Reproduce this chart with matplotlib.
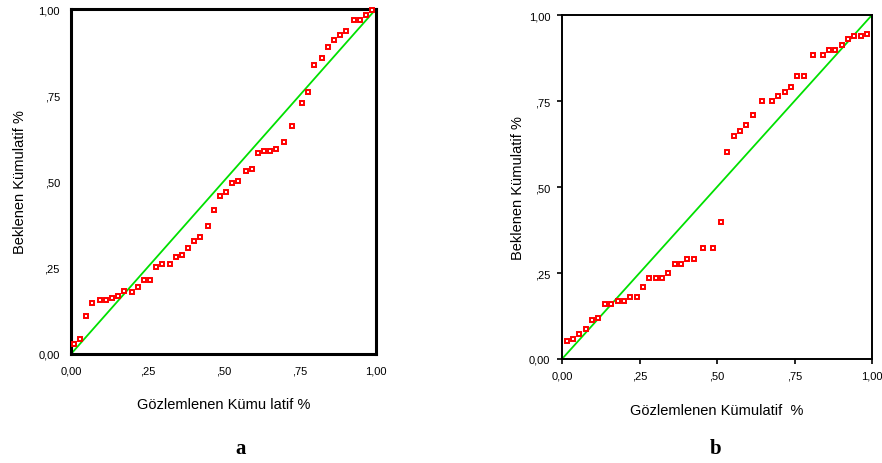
import matplotlib.pyplot as plt

plt.rcParams['font.family'] = ['Liberation Sans Narrow', 'Liberation Sans', 'DejaVu Sans']

# Panel a: observed vs expected cumulative proportions
obs_a = [0.010, 0.030, 0.049, 0.069, 0.095, 0.115, 0.134, 0.155, 0.175, 0.200,
         0.221, 0.240, 0.259, 0.279, 0.298, 0.325, 0.344, 0.364, 0.384, 0.403,
         0.423, 0.449, 0.469, 0.489, 0.508, 0.528, 0.548, 0.574, 0.593, 0.613,
         0.633, 0.652, 0.672, 0.698, 0.725, 0.757, 0.777, 0.797, 0.823, 0.843,
         0.862, 0.882, 0.902, 0.928, 0.948, 0.967, 0.987]
exp_a = [0.030, 0.043, 0.109, 0.148, 0.156, 0.156, 0.161, 0.169, 0.182, 0.181,
         0.195, 0.214, 0.214, 0.253, 0.260, 0.260, 0.280, 0.287, 0.306, 0.327,
         0.339, 0.372, 0.417, 0.457, 0.470, 0.496, 0.501, 0.530, 0.535, 0.582,
         0.588, 0.588, 0.595, 0.614, 0.661, 0.727, 0.759, 0.838, 0.858, 0.890,
         0.910, 0.924, 0.937, 0.969, 0.969, 0.983, 0.996]

# Panel b
obs_b = [0.015, 0.036, 0.056, 0.077, 0.098, 0.117, 0.139, 0.159, 0.180, 0.200,
         0.220, 0.241, 0.261, 0.282, 0.302, 0.323, 0.343, 0.364, 0.384, 0.404,
         0.425, 0.456, 0.487, 0.512, 0.533, 0.554, 0.574, 0.595, 0.616, 0.646,
         0.677, 0.698, 0.718, 0.739, 0.759, 0.780, 0.811, 0.841, 0.861, 0.882,
         0.902, 0.923, 0.943, 0.964, 0.984]
exp_b = [0.051, 0.057, 0.073, 0.087, 0.113, 0.118, 0.159, 0.159, 0.169, 0.169,
         0.179, 0.179, 0.210, 0.235, 0.235, 0.235, 0.251, 0.276, 0.276, 0.292,
         0.292, 0.323, 0.323, 0.399, 0.603, 0.648, 0.664, 0.679, 0.709, 0.750,
         0.750, 0.765, 0.776, 0.792, 0.822, 0.822, 0.883, 0.883, 0.898, 0.898,
         0.914, 0.929, 0.939, 0.939, 0.945]

ticks = [0, 0.25, 0.5, 0.75, 1.0]
tick_labels = ['0,00', ',25', ',50', ',75', '1,00']

fig = plt.figure(figsize=(8.82, 4.64), dpi=100)
ax_a = fig.add_axes([71/882, 109/464, 305/882, 345/464])
ax_b = fig.add_axes([562/882, 104/464, 310/882, 344/464])

for ax, xs, ys, xlab in [(ax_a, obs_a, exp_a, 'Gözlemlenen Kümu latif %'),
                         (ax_b, obs_b, exp_b, 'Gözlemlenen Kümulatif  %')]:
    ax.plot([0, 1], [0, 1], color='#00e000', lw=1.3, zorder=2)
    ax.plot(xs, ys, 's', ms=3.2, mfc='white', mec='#ff0000', mew=1.4,
            zorder=3, clip_on=False)
    ax.set_xlim(0, 1)
    ax.set_ylim(0, 1)
    ax.set_xticks(ticks)
    ax.set_xticklabels(tick_labels)
    ax.set_yticks(ticks)
    ax.set_yticklabels(tick_labels)

# panel a: heavy frame, no tick marks
for s in ax_a.spines.values():
    s.set_linewidth(2.2)
ax_a.tick_params(length=0, labelsize=8, pad=8)
ax_a.set_xlabel('Gözlemlenen Kümu latif %', fontsize=10.5, labelpad=16)
ax_a.set_ylabel('Beklenen Kümulatif %', fontsize=10.5, labelpad=8)

# panel b: lighter frame, outward ticks
for s in ax_b.spines.values():
    s.set_linewidth(1.4)
ax_b.tick_params(length=3.5, width=1.2, direction='out', labelsize=8, pad=5)
ax_b.set_xlabel('Gözlemlenen Kümulatif  %', fontsize=10.5, labelpad=16)
ax_b.set_ylabel('Beklenen Kümulatif %', fontsize=10.5, labelpad=3)

fig.text(241/882, 1 - 449/464, 'a', ha='center', va='center',
         fontsize=15, fontweight='bold', family='Liberation Serif')
fig.text(716/882, 1 - 449/464, 'b', ha='center', va='center',
         fontsize=15, fontweight='bold', family='Liberation Serif')

fig.savefig('out.png', dpi=100)
